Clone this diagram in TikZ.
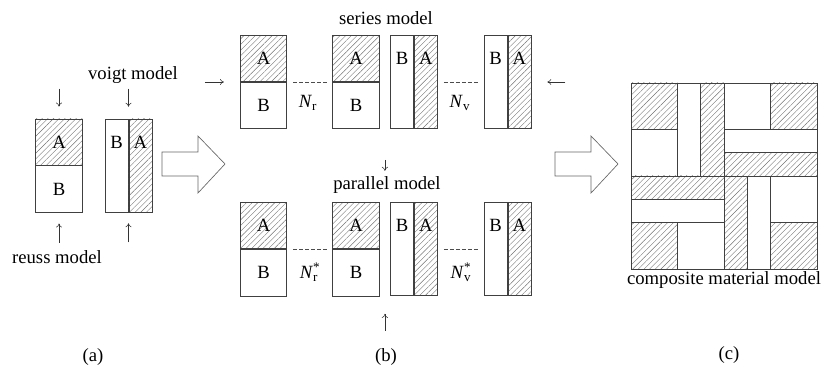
\documentclass[tikz,border=0pt]{standalone}
\usepackage{fontspec}
\setmainfont{Liberation Serif}
\usetikzlibrary{arrows.meta,patterns.meta,calc}

\tikzset{
  halfbox/.style={draw=black!75,line width=0.4pt,inner sep=0pt,minimum width=34.875pt,minimum height=34.875pt},
  hatchbox/.style={halfbox,pattern={Lines[angle=45,distance=3pt,line width=0.3pt]},pattern color=black!55},
  stripbox/.style={minimum width=17.4375pt,minimum height=69.75pt},
  smallarrow/.style={-{To[length=3pt,width=4.5pt]},line width=0.4pt,black!80},
  linkline/.style={dash pattern=on 3pt off 1.5pt,line width=0.4pt,black!70,shorten <=4.5pt,shorten >=3.75pt},
  hollowarrow/.style={draw=black!60,line width=0.5pt,line join=miter},
  hatchcell/.style={draw=black!75,line width=0.4pt,pattern={Lines[angle=45,distance=3pt,line width=0.3pt]},pattern color=black!55},
  cell/.style={draw=black!75,line width=0.4pt}
}

\newcommand{\reussbox}[3]{%
  \node[hatchbox,anchor=south] (#1a) at (#2,#3) {A};
  \node[halfbox,anchor=north] (#1b) at (#2,#3) {B};
}
\newcommand{\voigtbox}[3]{%
  \node[halfbox,stripbox,anchor=east] (#1b) at (#2,#3) {};
  \node[hatchbox,stripbox,anchor=west] (#1a) at (#2,#3) {};
  \node (#1bl) at ([yshift=-17.4375pt]#1b.north) {B};
  \node (#1al) at ([yshift=-17.4375pt]#1a.north) {A};
}
\newcommand{\numlabel}[2]{\textit{N}\rlap{\textsuperscript{#2}}\textsubscript{#1}}

\begin{document}
\begin{tikzpicture}[x=0.75pt,y=-0.75pt,font=\fontsize{14}{16}\selectfont]
  \useasboundingbox (0,0) rectangle (824,370);

  % (a)
  \reussbox{r}{59}{165.5}
  \voigtbox{v}{128.5}{165.5}
  \draw[smallarrow] ([yshift=22.5pt]ra.north) -- ([yshift=9pt]ra.north);
  \draw[smallarrow] ([yshift=22.5pt]va.north west) -- ([yshift=9pt]va.north west);
  \draw[smallarrow] ([yshift=-22.5pt]rb.south) -- ([yshift=-8.25pt]rb.south);
  \draw[smallarrow] ([yshift=-22.5pt]va.south west) -- ([yshift=-8.25pt]va.south west);
  \node (voigt) at (133,75) {voigt model};
  \node (reuss) at (57,257) {reuss model};
  \node (capa) at (93,357) {(a)};

  \draw[hollowarrow] (162,152) -- (198,152) -- (198,136) -- (225,164) -- (198,193) -- (198,176) -- (162,176) -- cycle;
  \draw[hollowarrow] (555,152) -- (591,152) -- (591,136) -- (618,164) -- (591,193) -- (591,176) -- (555,176) -- cycle;

  % (b)
  \node (series) at (386,18) {series model};
  \reussbox{s1}{263.5}{82}
  \reussbox{s2}{356}{82}
  \voigtbox{s3}{414}{82}
  \voigtbox{s4}{507.5}{82}
  \draw[linkline] (s1a.south east) -- (s2a.south west);
  \draw[linkline] (s3a.east) -- (s4b.west);
  \node (nr) at (308,103) {\numlabel{r}{}};
  \node (nv) at (460,103) {\numlabel{v}{}};
  \draw[smallarrow] ([xshift=-26.25pt]s1a.south west) -- ([xshift=-12pt]s1a.south west);
  \draw[smallarrow] ([xshift=25.5pt]s4a.east) -- ([xshift=12pt]s4a.east);
  \coordinate (gap) at ($(s2b.south east)!0.5!(s3b.south west)$);
  \draw[smallarrow] ([yshift=-23.25pt]gap) -- ([yshift=-31.5pt]gap);

  \node (parallel) at (387,185) {parallel model};
  \reussbox{p1}{263.5}{249}
  \reussbox{p2}{356}{249}
  \voigtbox{p3}{414}{249}
  \voigtbox{p4}{507.5}{249}
  \draw[linkline] (p1a.south east) -- (p2a.south west);
  \draw[linkline] (p3a.east) -- (p4b.west);
  \node (nrs) at (309,272) {\numlabel{r}{*}};
  \node (nvs) at (461,272) {\numlabel{v}{*}};
  \coordinate (pgap) at ($(p2b.south east)!0.5!(p3b.south west)$);
  \draw[smallarrow] ([yshift=-26.25pt]pgap) -- ([yshift=-13.5pt]pgap);
  \node (capb) at (386,357) {(b)};

  % (c)
  \begin{scope}[shift={(631,83)},x=17.4375pt,y=-17.4375pt]
    \foreach \xa/\ya/\xb/\yb in {0/0/2/2,3/0/4/4,0/4/4/5,0/6/2/8,6/0/8/2,4/3/8/4,4/4/5/8,6/6/8/8}
      \draw[hatchcell] (\xa,\ya) rectangle (\xb,\yb);
    \foreach \xa/\ya/\xb/\yb in {2/0/3/4,0/2/2/4,0/5/4/6,2/6/4/8,4/0/6/2,4/2/8/3,5/4/6/8,6/4/8/6}
      \draw[cell] (\xa,\ya) rectangle (\xb,\yb);
    \draw[cell] (0,0) rectangle (8,8);
  \end{scope}
  \node (comp) at (724,280) {composite material model};
  \node (capc) at (729,355) {(c)};
\end{tikzpicture}
\end{document}
